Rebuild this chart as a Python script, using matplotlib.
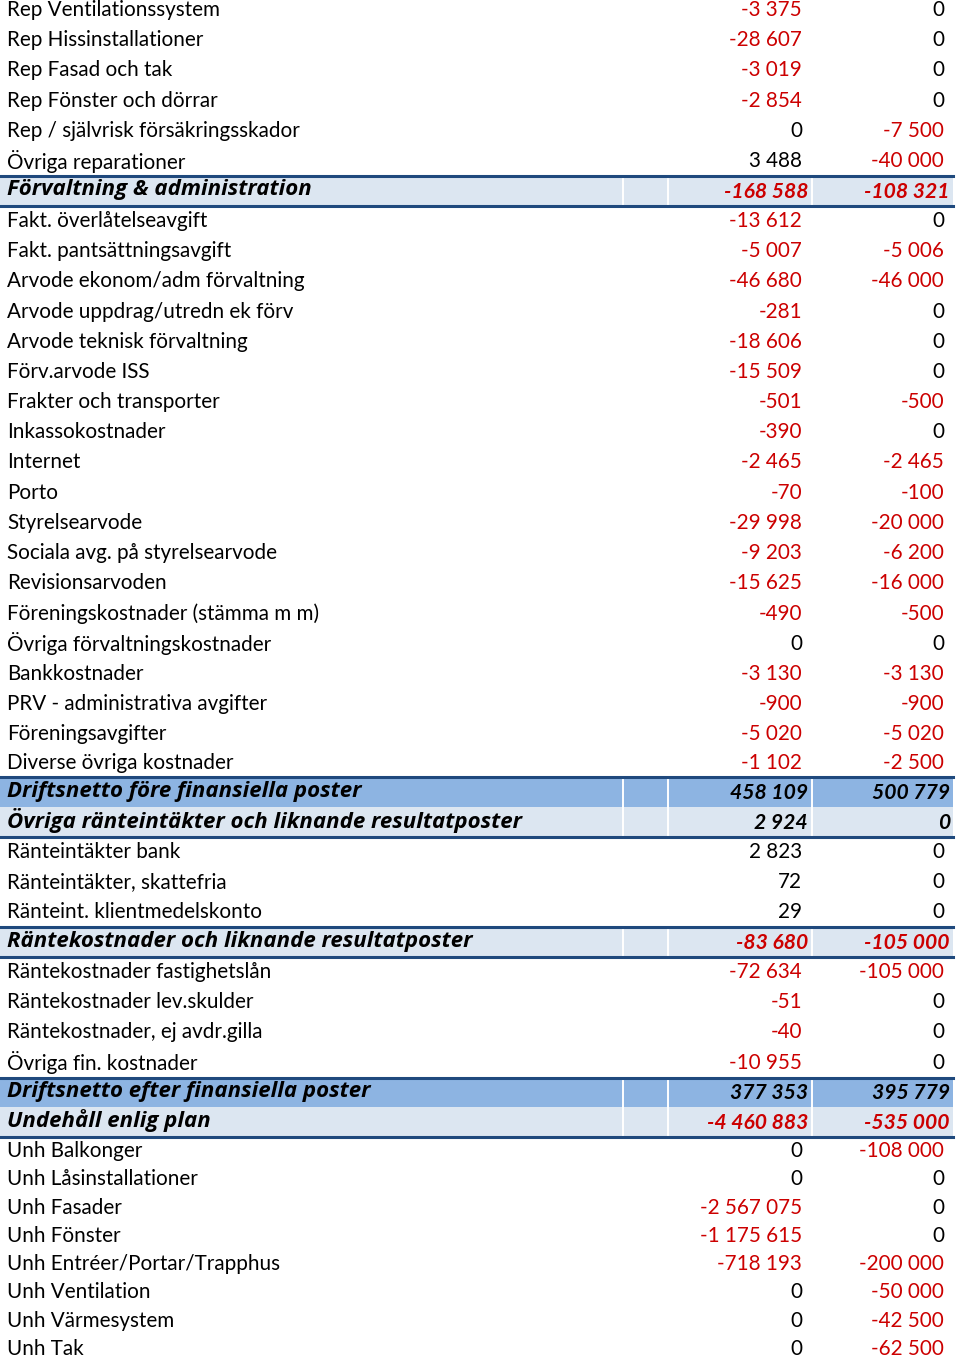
import matplotlib
matplotlib.use("Agg")
import matplotlib.pyplot as plt

# row kinds: "n" = vanlig rad, "h" = ljus rubrikrad, "H" = mörk summarad
labels = [
    "Rep Ventilationssystem", "Rep Hissinstallationer", "Rep Fasad och tak",
    "Rep Fönster och dörrar", "Rep / självrisk försäkringsskador", "Övriga reparationer",
    "Förvaltning & administration",
    "Fakt. överlåtelseavgift", "Fakt. pantsättningsavgift", "Arvode ekonom/adm förvaltning",
    "Arvode uppdrag/utredn ek förv", "Arvode teknisk förvaltning", "Förv.arvode ISS",
    "Frakter och transporter", "Inkassokostnader", "Internet", "Porto", "Styrelsearvode",
    "Sociala avg. på styrelsearvode", "Revisionsarvoden", "Föreningskostnader (stämma m m)",
    "Övriga förvaltningskostnader", "Bankkostnader", "PRV - administrativa avgifter",
    "Föreningsavgifter", "Diverse övriga kostnader",
    "Driftsnetto före finansiella poster",
    "Övriga ränteintäkter och liknande resultatposter",
    "Ränteintäkter bank", "Ränteintäkter, skattefria", "Ränteint. klientmedelskonto",
    "Räntekostnader och liknande resultatposter",
    "Räntekostnader fastighetslån", "Räntekostnader lev.skulder",
    "Räntekostnader, ej avdr.gilla", "Övriga fin. kostnader",
    "Driftsnetto efter finansiella poster",
    "Undehåll enlig plan",
    "Unh Balkonger", "Unh Låsinstallationer", "Unh Fasader", "Unh Fönster",
    "Unh Entréer/Portar/Trapphus", "Unh Ventilation", "Unh Värmesystem", "Unh Tak",
]
kinds = list("nnnnnn" "h" "nnnnnnnnnnnnnnnnnnn" "H" "h" "nnn" "h" "nnnn" "H" "h" "nnnnnnnn")

utfall = [
    -3375, -28607, -3019, -2854, 0, 3488,
    -168588,
    -13612, -5007, -46680, -281, -18606, -15509, -501, -390, -2465, -70,
    -29998, -9203, -15625, -490, 0, -3130, -900, -5020, -1102,
    458109,
    2924,
    2823, 72, 29,
    -83680,
    -72634, -51, -40, -10955,
    377353,
    -4460883,
    0, 0, -2567075, -1175615, -718193, 0, 0, 0,
]
budget = [
    0, 0, 0, 0, -7500, -40000,
    -108321,
    0, -5006, -46000, 0, 0, 0, -500, 0, -2465, -100,
    -20000, -6200, -16000, -500, 0, -3130, -900, -5020, -2500,
    500779,
    0,
    0, 0, 0,
    -105000,
    -105000, 0, 0, 0,
    395779,
    -535000,
    -108000, 0, 0, 0, -200000, -50000, -42500, -62500,
]

RED = "#cc0000"
LIGHT = "#dce6f1"
DARK = "#8db4e2"
BORDER = "#1f497d"


def fmt(v):
    s = f"{abs(v):,}".replace(",", " ")
    return "-" + s if v < 0 else s


W, H = 960, 1365
fig = plt.figure(figsize=(W / 100, H / 100), dpi=100)
ax = fig.add_axes([0, 0, 1, 1])
ax.set_xlim(0, W)
ax.set_ylim(H, 0)
ax.axis("off")

# radhöjder (pixlar)
heights = []
for i, k in enumerate(kinds):
    if k != "n":
        heights.append(29.6)
    elif i == 25:
        heights.append(28.0)
    elif i >= 38:
        heights.append(28.3)
    else:
        heights.append(30.2)

normal = dict(family="Lato", fontsize=14.9)
head = dict(family="Open Sans", fontsize=16, fontweight="bold", fontstyle="italic")
headnum = dict(family="Lato", fontsize=15.2, fontweight="bold", fontstyle="italic")

top = -5.0
i = 0
while i < len(labels):
    # samla ihop följande rubrikrader i ett block
    if kinds[i] != "n":
        j = i
        block_top = top
        while j < len(labels) and kinds[j] != "n":
            y0 = top
            ax.fill_between([0, 953], y0, y0 + heights[j],
                            color=DARK if kinds[j] == "H" else LIGHT, lw=0)
            for xs in (623, 668, 812):
                ax.plot([xs, xs], [y0, y0 + heights[j]], color="white", lw=1.4)
            yc = y0 + heights[j] / 2 - 1
            ax.text(7, yc, labels[j], ha="left", va="center", color="black", **head)
            ax.text(808, yc + 2, fmt(utfall[j]), ha="right", va="center",
                    color=RED if utfall[j] < 0 else "black", **headnum)
            ax.text(950, yc + 2, fmt(budget[j]), ha="right", va="center",
                    color=RED if budget[j] < 0 else "black", **headnum)
            top += heights[j]
            j += 1
        ax.plot([0, 953], [block_top, block_top], color=BORDER, lw=2.2)
        ax.plot([0, 953], [top, top], color=BORDER, lw=2.2)
        i = j
        continue
    yc = top + heights[i] / 2
    ax.text(7, yc, labels[i], ha="left", va="center", color="black", **normal)
    ax.text(802, yc, fmt(utfall[i]), ha="right", va="center",
            color=RED if utfall[i] < 0 else "black", **normal)
    ax.text(944, yc, fmt(budget[i]), ha="right", va="center",
            color=RED if budget[i] < 0 else "black", **normal)
    top += heights[i]
    i += 1

fig.savefig("out.png", dpi=100, facecolor="white")
